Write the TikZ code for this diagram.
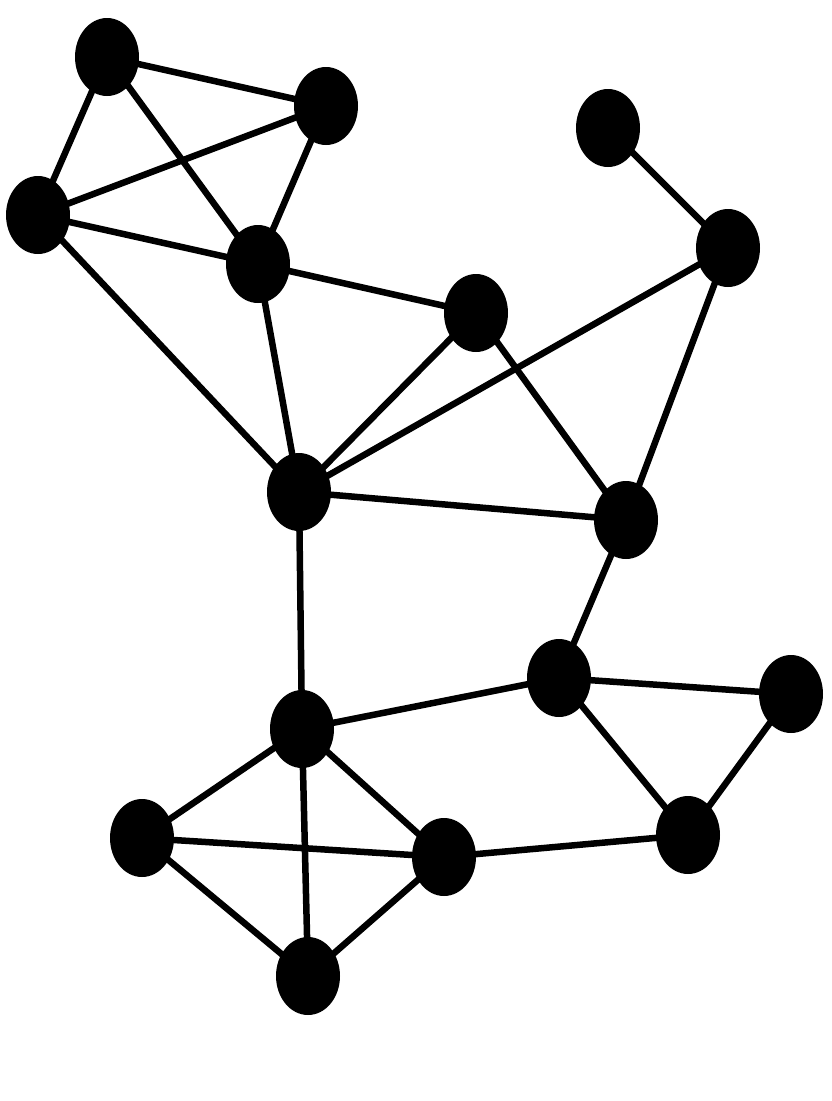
\documentclass[tikz,border=0pt]{standalone}
\usetikzlibrary{shapes.geometric}
\begin{document}
\begin{tikzpicture}[x=1pt,y=-1pt,
  vtx/.style={ellipse,fill=black,draw=none,minimum width=64pt,minimum height=78pt,inner sep=0pt},
  edge/.style={line width=6.5pt,black}]
\useasboundingbox[fill=white] (0,0) rectangle (831,1101);
\node[vtx] (A) at (107,57) {};
\node[vtx] (B) at (326,106) {};
\node[vtx] (C) at (38,215) {};
\node[vtx] (D) at (258,264) {};
\node[vtx] (E) at (476,313) {};
\node[vtx] (F) at (608,128) {};
\node[vtx] (G) at (728,248) {};
\node[vtx] (H) at (299,492) {};
\node[vtx] (I) at (626,520) {};
\node[vtx] (J) at (559,678) {};
\node[vtx] (K) at (791,694) {};
\node[vtx] (L) at (302,729) {};
\node[vtx] (M) at (142,838) {};
\node[vtx] (N) at (444,857) {};
\node[vtx] (O) at (688,835) {};
\node[vtx] (P) at (308,976) {};
\foreach \a/\b in {A/B,A/C,A/D,B/C,B/D,C/D,C/H,D/E,D/H,E/H,E/I,G/H,F/G,G/I,H/I,H/L,I/J,J/L,J/K,J/O,K/O,L/M,L/N,L/P,M/N,M/P,N/P,N/O}
  \draw[edge] (\a.center) -- (\b.center);
\end{tikzpicture}
\end{document}
